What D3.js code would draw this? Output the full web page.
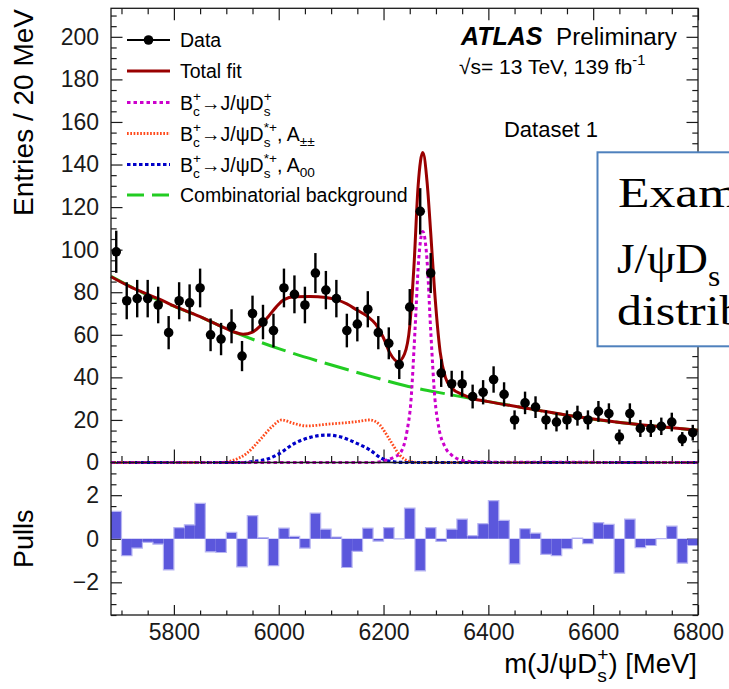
<html>
<head>
<meta charset="utf-8">
<title>Bc to J/psi Ds fit</title>
<style type="text/css">
  body{
    margin: 0;
    background: #fff;
  }
  svg{
    display: block;
    font-family: "Liberation Sans", Arial, sans-serif;
  }
</style>
</head>
<body>
<script src="https://d3js.org/d3.v7.min.js"></script>
<div id="graph_item"></div>
<script>

// 20 MeV bins: centres, entries, errors and pulls
var binCenters = [5690,5710,5730,5750,5770,5790,5810,5830,5850,5870,5890,5910,5930,5950,5970,5990,
  6010,6030,6050,6070,6090,6110,6130,6150,6170,6190,6210,6230,6250,6270,6290,6310,6330,6350,6370,6390,
  6410,6430,6450,6470,6490,6510,6530,6550,6570,6590,6610,6630,6650,6670,6690,6710,6730,6750,6770,6790];
var entries = [99,76,77,77,74,61,76,75,82,60,58,64,50,70,66,62,
  82,79,74,89,81,77,62,65,72,61,56,46,73,118,89,42,37,37,31,33,
  39,32,20,28,26,20,19,20,22,20,24,23,12,23,16,16,17,19,11,14];
var entryErrors = [9.9,8.7,8.8,8.8,8.6,7.8,8.7,8.7,9.1,7.7,7.6,8.0,7.1,8.4,8.1,7.9,
  9.1,8.9,8.6,9.4,9.0,8.8,7.9,8.1,8.5,7.8,7.5,6.8,8.5,10.9,9.4,6.5,6.1,6.1,5.6,5.7,
  6.2,5.7,4.5,5.3,5.1,4.5,4.4,4.5,4.7,4.5,4.9,4.8,3.5,4.8,4.0,4.0,4.1,4.4,3.3,3.7];
var pulls = [1.26,-0.78,-0.43,-0.17,-0.25,-1.43,0.51,0.64,1.62,-0.6,-0.63,0.29,-1.29,1.06,0.05,-1.24,
  0.49,0.11,-0.43,1.18,0.44,0.08,-1.32,-0.58,0.49,-0.11,0.51,-0.01,1.41,-1.47,0.51,-0.12,0.44,0.9,0.14,0.69,
  1.75,0.84,-1.15,0.46,0.26,-0.72,-0.78,-0.46,0.03,-0.23,0.74,0.66,-1.58,0.9,-0.41,-0.31,0.01,0.58,-1.12,-0.31];

// fit curves (mass, entries)
var fitMass = [5680,5720,5770,5810,5850,5890,5915,5932,5950,5965,5980,5995,6010,6030,6060,6090,6110,6130,6150,6170,
  6185,6200,6212,6228,6240,6250,6258,6266,6275,6283,6290,6297,6308,6318,6330,6350,6370,6400,6480,6560,6640,6720,6800];
var fitVal = [87.3,82.2,77,72.5,68.5,64,61.3,60.3,61.3,64.2,68.5,73,76.5,77.9,78,77.5,76.5,74.5,71.5,68.5,
  65,58.5,51.5,47.4,51,64,92,130,145.6,132,108,82,52,40,35,32,30,28.6,25.2,21.8,19.1,17.0,15.2];
var bkgMass = [5680,5760,5840,5920,6000,6080,6160,6240,6320,6400,6480,6560,6640,6720,6800];
var bkgVal = [87.5,77.5,69.5,60.8,53.5,47.3,41.6,36.2,32.2,28.6,25.2,21.8,19.1,17.0,15.2];
var sigMass = [5680,6180,6200,6220,6232,6245,6252,6260,6267,6275,6283,6290,6298,6305,6318,6330,6350,6380,6800];
var sigVal = [0,0,0.8,2.5,4.5,15,28,62,95,108.5,95,62,30,17,7,3.5,1,0.2,0];
var appMass = [5680,5890,5910,5939,5964,5987,6006,6028,6053,6098,6149,6174,6193,6212,6231,6250,6270,6800];
var appVal = [0,0,0.8,4.3,10.6,16.8,20,18.4,17.2,18.1,19.2,20,17.6,10.6,3.5,0.5,0,0];
var a00Mass = [5680,5930,5951,5977,6002,6028,6060,6092,6117,6149,6174,6196,6220,6240,6800];
var a00Val = [0,0,0.5,1.5,4.3,8.7,11.8,12.9,12.1,9,5.9,2,0.3,0,0];

var xMajor = [5800,6000,6200,6400,6600,6800];
var yMajor = [0,20,40,60,80,100,120,140,160,180,200];
var pullMajor = [-2,0,2];

var W = 729, H = 689;
var svg = d3.select("#graph_item")
  .append("svg")
    .attr("width", W)
    .attr("height", H)
    .style("overflow", "hidden");

var x = d3.scaleLinear().domain([5680, 6800]).range([111, 698]);
var y = d3.scaleLinear().domain([0, 213.4]).range([462.5, 8.3]);
var yp = d3.scaleLinear().domain([-3.5, 3.5]).range([615, 462.5]);

var xMinor = d3.range(5700, 6801, 50).filter(v => v % 200 != 0);
var yMinor = d3.range(0, 213, 5).filter(v => v % 20 != 0);
var pMinor = d3.range(-3.5, 3.51, 0.5).filter(v => v % 2 != 0);

var ink = "#1a1a1a";
var fmt = d3.format("d");

function drawAxis(axis, tr, labels, fs) {
  var g = svg.append("g")
    .attr("transform", tr)
    .call(axis.tickFormat(fmt))
    .call(g => g.select(".domain").remove());
  g.selectAll("line").attr("stroke", ink).attr("stroke-width", 1.2);
  g.selectAll("text")
    .attr("fill", ink)
    .attr("font-size", fs || 23)
    .attr("font-family", "'Liberation Sans', Arial, sans-serif");
  if (!labels) g.selectAll("text").remove();
  return g;
}

// ---- upper panel axes
drawAxis(d3.axisBottom(x).tickValues(xMajor).tickSize(-13), "translate(0,462.5)", false);
drawAxis(d3.axisBottom(x).tickValues(xMinor).tickSize(-6.5), "translate(0,462.5)", false);
drawAxis(d3.axisTop(x).tickValues(xMajor).tickSize(-12), "translate(0,8.3)", false);
drawAxis(d3.axisTop(x).tickValues(xMinor).tickSize(-6), "translate(0,8.3)", false);
drawAxis(d3.axisLeft(y).tickValues(yMajor).tickSize(-11.5).tickPadding(12), "translate(111,0)", true);
drawAxis(d3.axisLeft(y).tickValues(yMinor).tickSize(-5.7), "translate(111,0)", false);
drawAxis(d3.axisRight(y).tickValues(yMajor).tickSize(-11.5), "translate(698,0)", false);
drawAxis(d3.axisRight(y).tickValues(yMinor).tickSize(-5.7), "translate(698,0)", false);

// ---- pull panel axes
drawAxis(d3.axisBottom(x).tickValues(xMajor).tickSize(-10).tickPadding(9), "translate(0,615)", true);
drawAxis(d3.axisBottom(x).tickValues(xMinor).tickSize(-4.5), "translate(0,615)", false);
drawAxis(d3.axisLeft(yp).tickValues(pullMajor).tickSize(-11).tickPadding(12), "translate(111,0)", true);
drawAxis(d3.axisLeft(yp).tickValues(pMinor).tickSize(-5.5), "translate(111,0)", false);
drawAxis(d3.axisRight(yp).tickValues(pullMajor).tickSize(-11), "translate(698,0)", false);
drawAxis(d3.axisRight(yp).tickValues(pMinor).tickSize(-5.5), "translate(698,0)", false);

// ---- fit components
function curve(ms, vs, color, width, dash) {
  var pts = ms.map((m, i) => [m, vs[i]]);
  svg.append("path")
    .datum(pts)
    .attr("fill", "none")
    .attr("stroke", color)
    .attr("stroke-width", width)
    .attr("stroke-dasharray", dash)
    .attr("d", d3.line()
      .x(d => x(d[0]))
      .y(d => y(d[1]))
      .curve(d3.curveMonotoneX));
}

var cBkg = "#22cc22", cFit = "#990000", cSig = "#cc00cc", cApp = "#ff4a1c", cA00 = "#0000c8";

curve(bkgMass, bkgVal, cBkg, 3, "25,8");
curve(appMass, appVal, cApp, 2.8, "1.7,1.6");
curve(a00Mass, a00Val, cA00, 3.2, "3.5,2.5");
curve(sigMass, sigVal, cSig, 3, "3.5,3");
curve(fitMass, fitVal, cFit, 3, null);

// ---- data points
var pts = svg.append("g");
pts.selectAll("line")
  .data(binCenters)
  .join("line")
    .attr("x1", d => x(d))
    .attr("x2", d => x(d))
    .attr("y1", (d, i) => y(entries[i] - entryErrors[i]))
    .attr("y2", (d, i) => y(entries[i] + entryErrors[i]))
    .attr("stroke", "#000")
    .attr("stroke-width", 2.4);
pts.selectAll("circle")
  .data(binCenters)
  .join("circle")
    .attr("cx", d => x(d))
    .attr("cy", (d, i) => y(entries[i]))
    .attr("r", 4.8)
    .attr("fill", "#000");

// ---- pulls histogram
svg.append("g").selectAll("rect")
  .data(binCenters)
  .join("rect")
    .attr("x", d => x(d - 10))
    .attr("width", d => x(d + 10) - x(d - 10))
    .attr("y", (d, i) => Math.min(yp(0), yp(pulls[i])))
    .attr("height", (d, i) => Math.abs(yp(pulls[i]) - yp(0)))
    .attr("fill", "#5b57dc");

var stepPts = [];
binCenters.forEach((d, i) => {
  stepPts.push([d - 10, pulls[i]]);
  stepPts.push([d + 10, pulls[i]]);
});
svg.append("path")
  .datum(stepPts)
  .attr("fill", "none")
  .attr("stroke", "#b7b5f2")
  .attr("stroke-width", 1.2)
  .attr("d", d3.line().x(d => x(d[0])).y(d => yp(d[1])));

// frames
svg.append("rect").attr("x", 111).attr("y", 8.3).attr("width", 587).attr("height", 454.2)
  .attr("fill", "none").attr("stroke", ink).attr("stroke-width", 1.3);
svg.append("rect").attr("x", 111).attr("y", 462.5).attr("width", 587).attr("height", 152.5)
  .attr("fill", "none").attr("stroke", ink).attr("stroke-width", 1.3);

// ---- rich text helper (sub / superscripts, stacked)
function rich(t, fs, parts) {
  var base = 0, pend = 0;
  parts.forEach(function(p) {
    var k = p[1] || "n";
    if (k == "n") {
      t.append("tspan").attr("dy", -base).attr("dx", pend).attr("font-size", fs).text(p[0]);
      base = 0; pend = 0;
    } else if (k == "sub" || k == "sup") {
      var off = k == "sub" ? 0.3 * fs : -0.42 * fs;
      t.append("tspan").attr("dy", off - base).attr("dx", pend).attr("font-size", fs * 0.7).text(p[0]);
      base = off; pend = 0;
    } else {
      var up = -0.42 * fs, dn = 0.32 * fs;
      var a = t.append("tspan").attr("dy", up - base).attr("dx", pend).attr("font-size", fs * 0.7).text(p[0]);
      var wa = a.node().getComputedTextLength();
      var b = t.append("tspan").attr("dy", dn - up).attr("dx", -wa).attr("font-size", fs * 0.7).text(p[2]);
      var wb = b.node().getComputedTextLength();
      base = dn; pend = Math.max(0, wa - wb);
    }
  });
  return t;
}

// ---- legend
var legX1 = 127, legX2 = 170, legTx = 180, legFs = 19.5;
var legRows = [40, 71, 102.5, 133.5, 164.5, 195];
var leg = svg.append("g");

leg.append("line").attr("x1", legX1).attr("x2", legX2).attr("y1", legRows[0]).attr("y2", legRows[0])
  .attr("stroke", "#000").attr("stroke-width", 2);
leg.append("circle").attr("cx", (legX1 + legX2) / 2).attr("cy", legRows[0]).attr("r", 4.8).attr("fill", "#000");
var legStyles = [null, [cFit, 3, null], [cSig, 3, "3.5,3"], [cApp, 2.8, "1.7,1.6"], [cA00, 3.2, "3.5,2.5"], [cBkg, 3, "17,8"]];
legStyles.forEach(function(s, i) {
  if (!s) return;
  leg.append("line").attr("x1", legX1).attr("x2", legX2).attr("y1", legRows[i]).attr("y2", legRows[i])
    .attr("stroke", s[0]).attr("stroke-width", s[1]).attr("stroke-dasharray", s[2]);
});

var legLabels = [
  [["Data"]],
  [["Total fit"]],
  [["B"], ["+", "ss", "c"], ["\u2192J/\u03c8D"], ["+", "ss", "s"]],
  [["B"], ["+", "ss", "c"], ["\u2192J/\u03c8D"], ["*+", "ss", "s"], [", A"], ["\u00b1\u00b1", "sub"]],
  [["B"], ["+", "ss", "c"], ["\u2192J/\u03c8D"], ["*+", "ss", "s"], [", A"], ["00", "sub"]],
  [["Combinatorial background"]]
];
legLabels.forEach(function(parts, i) {
  rich(leg.append("text").attr("x", legTx).attr("y", legRows[i] + 7).attr("fill", "#000"), legFs, parts);
});

// ---- ATLAS label
svg.append("text").attr("x", 461).attr("y", 45).attr("font-size", 25)
  .attr("font-weight", "bold").attr("font-style", "italic").text("ATLAS");
svg.append("text").attr("x", 556).attr("y", 45).attr("font-size", 24.2).text("Preliminary");
rich(svg.append("text").attr("x", 459).attr("y", 74), 21,
  [["\u221as= 13 TeV, 139 fb"], ["-1", "sup"]]);
svg.append("text").attr("x", 551).attr("y", 137).attr("font-size", 22)
  .attr("text-anchor", "middle").text("Dataset 1");

// ---- axis titles
svg.append("text")
  .attr("transform", "translate(33,9) rotate(-90)")
  .attr("text-anchor", "end")
  .attr("font-size", 28)
  .text("Entries / 20 MeV");
svg.append("text")
  .attr("transform", "translate(33,538.8) rotate(-90)")
  .attr("text-anchor", "middle")
  .attr("font-size", 27)
  .text("Pulls");
rich(svg.append("text").attr("x", 697).attr("y", 673).attr("text-anchor", "end"), 27.5,
  [["m(J/\u03c8D"], ["+", "ss", "s"], [") [MeV]"]]);

// ---- overlaid note box (runs off the right edge, as in the slide)
var note = svg.append("g");
note.append("rect")
  .attr("x", 597.5).attr("y", 152.3).attr("width", 200).attr("height", 194)
  .attr("fill", "#fff").attr("stroke", "#4f81bd").attr("stroke-width", 2);
var serif = "'Liberation Serif', 'Times New Roman', serif";
note.append("text").attr("transform", "translate(618,207) scale(1.2,1)")
  .attr("font-family", serif).attr("font-size", 43).text("Exam");
rich(note.append("text").attr("transform", "translate(617,273) scale(1.05,1)").attr("font-family", serif), 43,
  [["J/\u03c8D"], ["s", "sub"]]);
note.append("text").attr("transform", "translate(617,325) scale(1.16,1)")
  .attr("font-family", serif).attr("font-size", 43).text("distrib");

</script>
</body>
</html>
